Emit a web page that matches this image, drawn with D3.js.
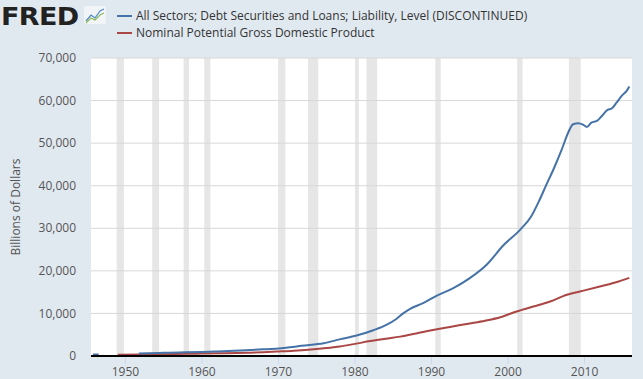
<!DOCTYPE html>
<html>
<head>
<meta charset="utf-8">
<script src="https://cdn.jsdelivr.net/npm/d3@7"></script>
<style>
  html, body { margin: 0; padding: 0; background: #e1e9f0; }
  svg { display: block; font-family: "Open Sans", sans-serif; }
</style>
</head>
<body>
<svg id="chart" width="643" height="379"></svg>
<script>
// debt series (billions), decimal year -> value; null = gap in the data
const debtYears = [1945.75, 1946.5, 1946.75, 1951.75, 1953, 1955, 1957, 1960, 1962, 1965, 1968, 1970, 1971.5,
  1973, 1975.9, 1978, 1980.2, 1982.4, 1984.1, 1985.4, 1986.3, 1987.2, 1988.9, 1990.7, 1992.85,
  1995, 1997.2, 1999.4, 2001.6, 2003, 2004, 2005, 2006, 2007, 2007.9, 2008.5,
  2009.2, 2009.85, 2010.3, 2010.9, 2011.6, 2012.2, 2013.0, 2013.55, 2014.2, 2014.85, 2015.5, 2015.85];
const debtValues = [360, 380, null, 600, 660, 740, 820, 950, 1080, 1300, 1560, 1780, 2050,
  2400, 2990, 3900, 4800, 6050, 7300, 8700, 10000, 11080, 12400, 14200, 15950,
  18300, 21450, 26000, 29700, 32700, 36200, 40200, 44100, 48400, 52630, 54440,
  54680, 54280, 53810, 54840, 55220, 56250, 57820, 58140, 59550, 61120, 62290, 63330];

// potential GDP series (billions)
const gdpYears = [1949, 1952, 1955, 1958, 1960, 1963, 1966, 1968, 1970, 1972, 1975, 1978, 1980,
  1982, 1984, 1985.9, 1988, 1990.2, 1992.4, 1994.6, 1997, 1999, 2001.1, 2003.3, 2005.5, 2007.7,
  2009.4, 2012, 2014, 2015.85];
const gdpValues = [270, 350, 420, 500, 560, 650, 780, 890, 1050, 1230, 1650, 2250, 2850,
  3500, 4050, 4550, 5300, 6130, 6800, 7540, 8300, 9110, 10450, 11620, 12800, 14380,
  15150, 16330, 17250, 18350];

// NBER recessions
const recStart = [1948.85, 1953.5, 1957.6, 1960.3, 1969.95, 1973.85, 1980.0, 1981.5, 1990.5, 2001.2, 2007.95];
const recEnd   = [1949.8, 1954.4, 1958.3, 1961.1, 1970.9, 1975.2, 1980.5, 1982.9, 1991.2, 2001.9, 2009.5];

const yTicks = [0, 10000, 20000, 30000, 40000, 50000, 60000, 70000];
const xTickYears = [1950, 1960, 1970, 1980, 1990, 2000, 2010];

const seriesNames = [
  "All Sectors; Debt Securities and Loans; Liability, Level (DISCONTINUED)",
  "Nominal Potential Gross Domestic Product"
];
const seriesColors = ["#4572a7", "#aa4643"];

function toDate(y) {
  const yr = Math.floor(y);
  const start = new Date(yr, 0, 1), end = new Date(yr + 1, 0, 1);
  return new Date(start.getTime() + (y - yr) * (end - start));
}

const svg = d3.select("#chart");
const margin = { left: 91, right: 11, top: 58, bottom: 23 };
const W = 643, H = 379;

const x = d3.scaleTime()
  .domain([toDate(1945.5), toDate(2016.2)])
  .range([margin.left, W - margin.right]);
const y = d3.scaleLinear()
  .domain([0, 70000])
  .range([H - margin.bottom, margin.top]);

// plot background
svg.append("rect")
  .attr("x", margin.left).attr("y", margin.top)
  .attr("width", W - margin.left - margin.right)
  .attr("height", H - margin.top - margin.bottom)
  .attr("fill", "#ffffff");

// recession shading
svg.append("g").selectAll("rect")
  .data(recStart)
  .join("rect")
  .attr("x", (d) => x(toDate(d)))
  .attr("width", (d, i) => x(toDate(recEnd[i])) - x(toDate(d)))
  .attr("y", margin.top)
  .attr("height", H - margin.top - margin.bottom)
  .attr("fill", "#e6e6e6");

// horizontal grid
svg.append("g").selectAll("line")
  .data(yTicks.filter((d) => d > 0))
  .join("line")
  .attr("x1", margin.left).attr("x2", W - margin.right)
  .attr("y1", (d) => y(d)).attr("y2", (d) => y(d))
  .attr("stroke", "#d8d8d8").attr("stroke-width", 1);

// y labels
svg.append("g").selectAll("text")
  .data(yTicks)
  .join("text")
  .attr("x", 76)
  .attr("y", (d) => y(d))
  .attr("dy", "0.35em")
  .attr("text-anchor", "end")
  .attr("font-size", 12)
  .attr("fill", "#555")
  .text((d) => d3.format(",")(d));

svg.append("text")
  .attr("transform", `translate(20, ${(margin.top + H - margin.bottom) / 2}) rotate(-90)`)
  .attr("text-anchor", "middle")
  .attr("font-size", 12)
  .attr("fill", "#555")
  .text("Billions of Dollars");

// x axis ticks and labels
const xg = svg.append("g");
xg.selectAll("line")
  .data(xTickYears)
  .join("line")
  .attr("x1", (d) => x(toDate(d))).attr("x2", (d) => x(toDate(d)))
  .attr("y1", H - margin.bottom).attr("y2", H - margin.bottom + 8)
  .attr("stroke", "#ccd6eb");
xg.selectAll("text")
  .data(xTickYears)
  .join("text")
  .attr("x", (d) => x(toDate(d)))
  .attr("y", H - margin.bottom + 20)
  .attr("text-anchor", "middle")
  .attr("font-size", 12)
  .attr("fill", "#555")
  .text((d) => d);

// lines
const line = d3.line()
  .defined((d) => d[1] !== null)
  .x((d) => x(toDate(d[0])))
  .y((d) => y(d[1]))
  .curve(d3.curveMonotoneX);

svg.append("path")
  .datum(gdpYears.map((d, i) => [d, gdpValues[i]]))
  .attr("d", line)
  .attr("fill", "none")
  .attr("stroke", seriesColors[1])
  .attr("stroke-width", 2);

svg.append("path")
  .datum(debtYears.map((d, i) => [d, debtValues[i]]))
  .attr("d", line)
  .attr("fill", "none")
  .attr("stroke", seriesColors[0])
  .attr("stroke-width", 2);

// x axis base line
svg.append("line")
  .attr("x1", margin.left).attr("x2", W - margin.right)
  .attr("y1", H - margin.bottom).attr("y2", H - margin.bottom)
  .attr("stroke", "#000").attr("stroke-width", 2);

// FRED logo
svg.append("text")
  .attr("x", 1).attr("y", 27)
  .attr("font-family", "'DejaVu Sans', sans-serif")
  .attr("font-weight", "bold")
  .attr("font-size", 27)
  .attr("letter-spacing", -0.6)
  .attr("fill", "#222")
  .attr("transform", "scale(1,0.92)")
  .text("FRED");
const icon = svg.append("g").attr("transform", "translate(84,6)");
icon.append("rect").attr("width", 22).attr("height", 18).attr("rx", 2).attr("fill", "#f2f5f8");
icon.append("path").attr("d", "M2,15 L7,9 L11,12 L16,5 L20,3")
  .attr("fill", "none").attr("stroke", "#4d89c2").attr("stroke-width", 1.2);
icon.append("path").attr("d", "M2,17 L7,12 L11,14 L16,9 L20,7")
  .attr("fill", "none").attr("stroke", "#8dbb59").attr("stroke-width", 1.2);

// legend
const lg = svg.append("g").selectAll("g")
  .data(seriesNames)
  .join("g")
  .attr("transform", (d, i) => `translate(117, ${16 + i * 17})`);
lg.append("line")
  .attr("x1", 0).attr("x2", 15)
  .attr("stroke", (d, i) => seriesColors[i])
  .attr("stroke-width", 2);
lg.append("text")
  .attr("x", 19)
  .attr("dy", "0.35em")
  .attr("font-size", 12)
  .attr("fill", "#333")
  .text((d) => d);
</script>
</body>
</html>
